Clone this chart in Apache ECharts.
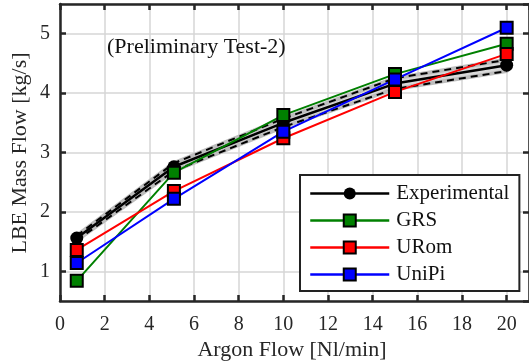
<!DOCTYPE html>
<html>
<head>
<meta charset="utf-8">
<script src="https://cdn.jsdelivr.net/npm/echarts@6/dist/echarts.min.js"></script>
<style>html,body{margin:0;padding:0;background:#fff}#c{width:529px;height:364px}</style>
</head>
<body>
<div id="c"></div>
<script>
const argonFlow = [0.75, 5.1, 10, 15, 20];
const experimental = [1.56, 2.76, 3.50, 4.16, 4.47];
const expUpper = [1.60, 2.82, 3.57, 4.25, 4.56];
const expLower = [1.52, 2.69, 3.43, 4.07, 4.37];
const grs = [0.84, 2.66, 3.63, 4.32, 4.83];
const urom = [1.36, 2.35, 3.24, 4.02, 4.66];
const unipi = [1.14, 2.22, 3.35, 4.23, 5.10];
const seriesNames = ['Experimental', 'GRS', 'URom', 'UniPi'];
const annotation = '(Preliminary Test-2)';
const xTitle = 'Argon Flow [Nl/min]';
const yTitle = 'LBE Mass Flow [kg/s]';

const FONT = "'Liberation Serif','Times New Roman',serif";
const TXT = '#262626';
const pairs = arr => argonFlow.map((x, i) => [x, arr[i]]);

const chart = echarts.init(document.getElementById('c'), null, {renderer: 'canvas'});

const axisCommon = {
  type: 'value',
  axisLine: {show: true, onZero: false, lineStyle: {color: TXT, width: 2.5}},
  axisTick: {show: true, inside: true, length: 6, lineStyle: {color: TXT, width: 2.5}},
  splitLine: {show: false}
};

function sq(name, data, color) {
  return {
    name, type: 'line', data: pairs(data), symbol: 'rect', symbolSize: 12,
    lineStyle: {color, width: 2}, itemStyle: {color, borderColor: '#000', borderWidth: 2},
    z: 5, animation: false
  };
}

chart.setOption({
  animation: false,
  grid: {left: 60, top: 4, width: 472.5, height: 297, containLabel: false},
  xAxis: [
    Object.assign({}, axisCommon, {
      position: 'bottom', min: 0, max: 21, interval: 2,
      axisLabel: {show: true, color: TXT, fontFamily: FONT, fontSize: 20, margin: 14, showMaxLabel: false},
      splitLine: {show: true, lineStyle: {color: '#d6d6d6', width: 1.5}}
    }),
    Object.assign({}, axisCommon, {position: 'top', min: 0, max: 21, interval: 2, axisLabel: {show: false}})
  ],
  yAxis: [
    Object.assign({}, axisCommon, {
      position: 'left', min: 0.5, max: 5.5, splitNumber: 5,
      axisLabel: {show: true, color: TXT, fontFamily: FONT, fontSize: 20, margin: 10, showMinLabel: false, showMaxLabel: false},
      splitLine: {show: true, lineStyle: {color: '#d6d6d6', width: 1.5}}
    }),
    Object.assign({}, axisCommon, {position: 'right', min: 0.5, max: 5.5, splitNumber: 5, axisLabel: {show: false}})
  ],
  legend: {
    data: seriesNames,
    orient: 'vertical', left: 300, top: 175,
    backgroundColor: '#fff', borderColor: '#222', borderWidth: 2,
    padding: [8, 10, 6, 9], itemWidth: 79, itemHeight: 15, itemGap: 6,
    lineStyle: {width: 2.5},
    textStyle: {fontFamily: FONT, fontSize: 21, color: '#111', lineHeight: 21, padding: [0, 0, 0, 2]},
    selectedMode: false
  },
  graphic: [
    {type: 'text', left: 107, top: 36, z: 10, style: {text: annotation, font: '22px ' + FONT, fill: '#111'}},
    {type: 'text', x: 292, y: 350, z: 10, style: {text: xTitle, font: '22px ' + FONT, fill: TXT, align: 'center', verticalAlign: 'middle'}},
    {type: 'text', x: 20, y: 153, rotation: Math.PI / 2, z: 10, style: {text: yTitle, font: '22px ' + FONT, fill: TXT, align: 'center', verticalAlign: 'middle'}}
  ],
  series: [
    {
      name: 'band', type: 'custom', data: [[0, 0]], z: 2, silent: true,
      renderItem: function (params, api) {
        const pts = [];
        argonFlow.forEach((x, i) => pts.push(api.coord([x, expUpper[i]])));
        for (let i = argonFlow.length - 1; i >= 0; i--) pts.push(api.coord([argonFlow[i], expLower[i]]));
        return {type: 'polygon', shape: {points: pts}, style: {fill: '#d9d9d9', stroke: '#bdbdbd', lineWidth: 4, lineJoin: 'round'}};
      }
    },
    {name: 'upper', type: 'line', data: pairs(expUpper), symbol: 'none', z: 3,
     lineStyle: {color: '#000', width: 2, type: [7, 5]}},
    {name: 'lower', type: 'line', data: pairs(expLower), symbol: 'none', z: 3,
     lineStyle: {color: '#000', width: 2, type: [7, 5]}},
    {name: 'Experimental', type: 'line', data: pairs(experimental), symbol: 'circle', symbolSize: 13, z: 4,
     lineStyle: {color: '#000', width: 2.5}, itemStyle: {color: '#000', borderColor: '#000', borderWidth: 0}},
    sq('GRS', grs, '#008000'),
    sq('URom', urom, '#ff0000'),
    sq('UniPi', unipi, '#0000ff')
  ]
});
</script>
</body>
</html>
